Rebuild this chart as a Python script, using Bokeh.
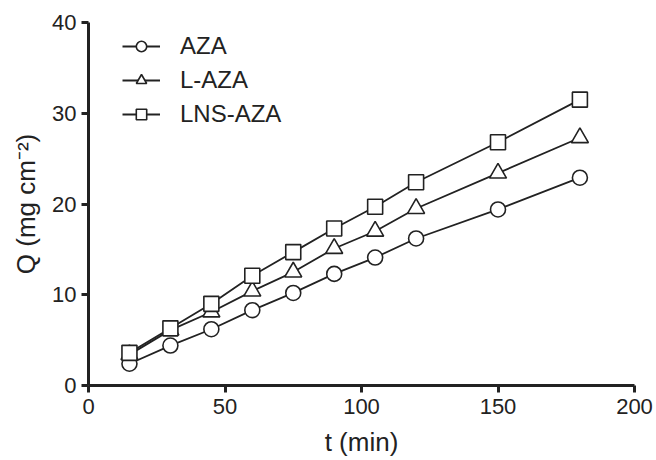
from bokeh.plotting import figure
from bokeh.models import Range1d, FixedTicker, Legend, LegendItem
from bokeh.embed import file_html
from bokeh.resources import INLINE

t = [15, 30, 45, 60, 75, 90, 105, 120, 150, 180]
aza = [2.4, 4.4, 6.2, 8.3, 10.2, 12.3, 14.1, 16.2, 19.4, 22.9]
l_aza = [3.4, 6.1, 8.1, 10.4, 12.5, 15.1, 17.0, 19.5, 23.4, 27.3]
lns_aza = [3.6, 6.3, 9.0, 12.1, 14.7, 17.3, 19.7, 22.4, 26.8, 31.5]
x_ticks = [0, 50, 100, 150, 200]
y_ticks = [0, 10, 20, 30, 40]

FONT = "Liberation Sans"
INK = "#222222"

p = figure(width=656, height=460, output_backend="svg", toolbar_location=None,
           x_range=Range1d(0, 200), y_range=Range1d(0, 40),
           min_border_left=88, min_border_right=22, min_border_top=22, min_border_bottom=75)
p.outline_line_color = None
p.grid.grid_line_color = None
p.background_fill_color = "white"

for ax, ticks in ((p.xaxis, x_ticks), (p.yaxis, y_ticks)):
    ax.ticker = FixedTicker(ticks=ticks)
    ax.axis_line_width = 3
    ax.axis_line_color = INK
    ax.major_tick_line_width = 3
    ax.major_tick_line_color = INK
    ax.major_tick_out = 7
    ax.major_tick_in = 0
    ax.minor_tick_line_color = None
    ax.major_label_text_font = FONT
    ax.major_label_text_font_size = "22px"
    ax.major_label_text_color = INK
    ax.axis_label_text_font = FONT
    ax.axis_label_text_font_size = "26px"
    ax.axis_label_text_font_style = "normal"
    ax.axis_label_text_color = INK

p.xaxis.axis_label = "t (min)"
p.yaxis.axis_label = "Q (mg cm\u207b\u00b2)"
p.xaxis.major_label_standoff = 6
p.yaxis.major_label_standoff = 5
p.xaxis.axis_label_standoff = 10
p.yaxis.axis_label_standoff = 8

items = []
for ys, marker, size, name in ((aza, "circle", 15, "AZA"),
                               (l_aza, "triangle", 17, "L-AZA"),
                               (lns_aza, "square", 15, "LNS-AZA")):
    ln = p.line(t, ys, line_color=INK, line_width=1.8)
    sc = p.scatter(t, ys, marker=marker, size=size, fill_color="white",
                   line_color=INK, line_width=1.6)
    items.append(LegendItem(label=name, renderers=[ln, sc]))

legend = Legend(items=items, location=(34, 257), border_line_color=None,
                background_fill_alpha=0, padding=0, margin=0,
                glyph_width=38, glyph_height=26, spacing=6, label_standoff=20,
                label_text_font=FONT, label_text_font_size="24px",
                label_text_color=INK)
p.add_layout(legend, "center")

open("out.html", "w").write(file_html(p, INLINE))
